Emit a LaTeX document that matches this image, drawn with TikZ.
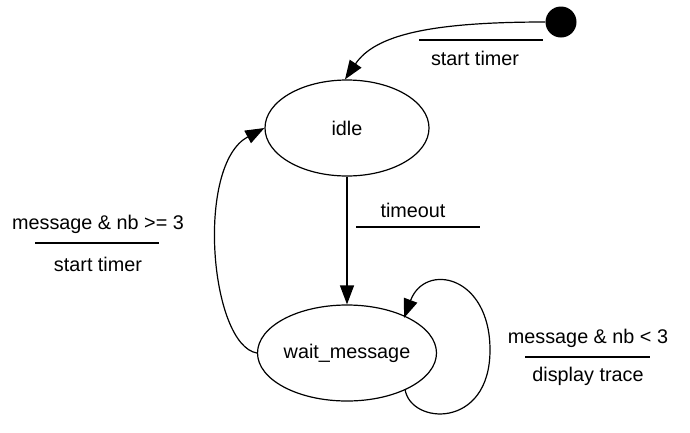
\documentclass[tikz,border=0pt]{standalone}
\usepackage{fontspec}
\setmainfont{Liberation Sans}
\usetikzlibrary{arrows.meta,shapes.geometric,calc}
\begin{document}
\begin{tikzpicture}[x=1pt,y=-1pt,
  every node/.style={font=\fontsize{19.8}{23}\selectfont},
  state/.style={draw,ellipse,line width=1.2pt,minimum width=164pt,minimum height=96pt,inner sep=0pt},
  initial/.style={circle,fill=black,minimum size=31pt,inner sep=0pt},
  trans/.style={line width=1.2pt,-{Triangle[length=19pt,width=14pt]}},
  sep/.style={line width=1.2pt},
  lbl/.style={inner sep=0pt}]
\useasboundingbox (0,0) rectangle (690,432);
\node[initial] (init) at (561,22) {};
\node[state] (idle) at (347,128) {idle};
\node[state] (wait) at (347,353) {wait\_message};
% start -> idle
\draw[trans] (init.west) .. controls (430,22) and (375,35) .. ($(idle.north)+(-2,0)$);
\node[lbl] (l1) at (475,58) {start timer};
\coordinate (l1a) at (419,40); \coordinate (l1b) at (543,40);
\draw[sep] (l1a) -- (l1b);
% idle -> wait
\draw[trans] (idle.south) -- (wait.north);
\node[lbl] (l2) at (413,210) {timeout};
\coordinate (l2a) at (356,227); \coordinate (l2b) at (480,227);
\draw[sep] (l2a) -- (l2b);
% wait -> idle
\draw[trans] (wait.west) .. controls (210,345) and (195,165) .. (idle.west);
\node[lbl] (l3a) at (98,224) {message \& nb >= 3};
\node[lbl] (l3b) at (98,264) {start timer};
\coordinate (l3c) at (35,243); \coordinate (l3d) at (159,243);
\draw[sep] (l3c) -- (l3d);
% self loop
\coordinate (sl1) at (405,389);
\coordinate (sl2) at (490,350);
\coordinate (sl3) at (404,318);
\draw[trans] (sl1) .. controls (410,425) and (490,430) .. (sl2) .. controls (490,275) and (425,262) .. (sl3);
\node[lbl] (l4a) at (588,338) {message \& nb < 3};
\node[lbl] (l4b) at (588,376) {display trace};
\coordinate (l4c) at (525,357); \coordinate (l4d) at (650,357);
\draw[sep] (l4c) -- (l4d);
\end{tikzpicture}
\end{document}
